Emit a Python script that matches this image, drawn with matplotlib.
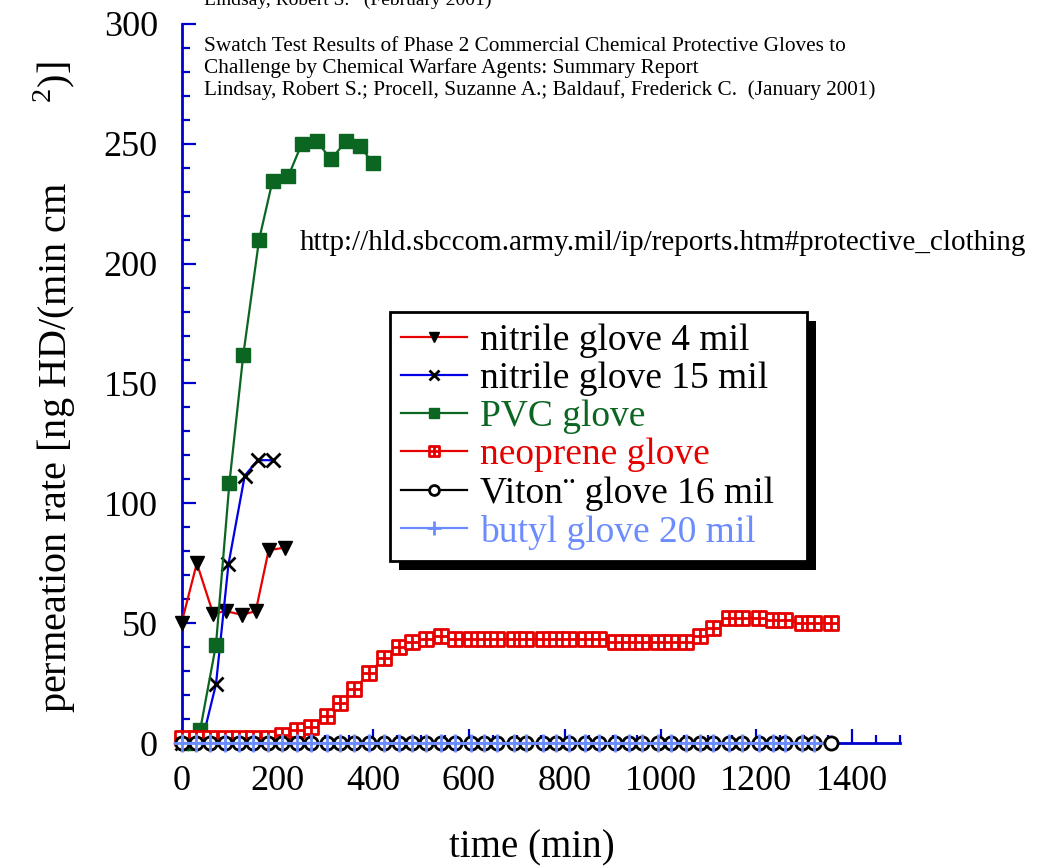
import matplotlib
matplotlib.use('Agg')
import matplotlib.pyplot as plt
from matplotlib.path import Path
from matplotlib.patches import Rectangle
from matplotlib.transforms import IdentityTransform
from matplotlib.ticker import MultipleLocator

plt.rcParams['font.family'] = ['Liberation Serif', 'DejaVu Serif']
plt.rcParams['mathtext.fontset'] = 'custom'
plt.rcParams['mathtext.rm'] = 'Liberation Serif'

# data (time in min, rate in ng HD/(min cm2))
nit4_t = [0, 32, 66, 93, 126, 155, 182, 216]
nit4_y = [50, 75, 54, 55, 53.5, 55, 80.5, 81.5]

nit15_t = [0, 42, 72, 98, 132, 159, 191]
nit15_y = [0, 0, 24.5, 74.5, 111.5, 118, 118]

pvc_t = [10, 39, 72, 100, 129, 162, 190, 223, 251, 283, 312, 343, 372, 400]
pvc_y = [0, 5.5, 41, 108.5, 162, 210, 234.5, 236.5, 250, 251, 243.5, 251, 249, 242]

neo_t = [0, 30, 60, 90, 120, 150, 180, 209, 241, 270, 303, 330, 360, 392,
         422, 454, 482, 510, 542, 572, 604, 631, 659, 694, 720, 754, 782,
         810, 843, 871, 904, 934, 961, 994, 1022, 1053, 1083, 1110, 1144,
         1171, 1205, 1234, 1260, 1295, 1321, 1356]
neo_y = [2, 2, 2, 2, 2, 2, 2, 3.3, 5.4, 6.8, 11.3, 16.8, 22.4, 29.1,
         35.5, 40.2, 42.3, 43.5, 44.6, 43.4, 43.4, 43.4, 43.4, 43.4, 43.4,
         43.4, 43.4, 43.4, 43.4, 43.4, 42.3, 42.3, 42.3, 42.3, 42.3, 42.3,
         44.6, 47.8, 52.3, 52.3, 52.3, 51.3, 51.3, 50.2, 50.2, 50.2]

viton_t = neo_t
viton_y = [0] * len(viton_t)
butyl_t = neo_t[:-1]
butyl_y = [0] * len(butyl_t)

labels = ['nitrile glove 4 mil', 'nitrile glove 15 mil', 'PVC glove',
          'neoprene glove', 'Viton¨ glove 16 mil', 'butyl glove 20 mil']

red = '#e60000'
blue = '#0000e6'
green = '#0b6622'
lblue = '#6b8cff'
axblue = '#0000cc'

# square with a cross inside, like the neoprene marker
grid_sq = Path([(-1, -1), (1, -1), (1, 1), (-1, 1), (-1, -1),
                (0, -1), (0, 1), (-1, 0), (1, 0)],
               [Path.MOVETO, Path.LINETO, Path.LINETO, Path.LINETO, Path.CLOSEPOLY,
                Path.MOVETO, Path.LINETO, Path.MOVETO, Path.LINETO])

fig = plt.figure(figsize=(10.37, 8.67), dpi=100)
ax = fig.add_axes([181.5 / 1037, 124 / 867, 718.5 / 1037, 719 / 867])

lw = 1.6
ms = 9.5
ax.plot(nit4_t, nit4_y, color=red, lw=lw, marker='v', ms=ms, mfc='k', mec='k',
        clip_on=False, label=labels[0])
ax.plot(nit15_t, nit15_y, color=blue, lw=lw, marker='x', ms=ms, mew=2, mec='k',
        clip_on=False, label=labels[1])
ax.plot(pvc_t, pvc_y, color=green, lw=lw, marker='s', ms=ms, mfc=green, mec=green,
        clip_on=False, label=labels[2])
ax.plot(neo_t, neo_y, color=red, lw=lw, marker=grid_sq, ms=ms, mfc='white', mec=red,
        mew=2, clip_on=False, label=labels[3])
ax.plot(viton_t, viton_y, color='k', lw=lw, marker='o', ms=ms, mfc='white', mec='k',
        mew=2, clip_on=False, label=labels[4])
ax.plot(butyl_t, butyl_y, color=lblue, lw=lw, marker='+', ms=ms + 3, mew=2, mec=lblue,
        clip_on=False, label=labels[5])

ax.set_xlim(0, 1500)
ax.set_ylim(0, 300)
ax.xaxis.set_major_locator(MultipleLocator(200))
ax.xaxis.set_minor_locator(MultipleLocator(50))
ax.yaxis.set_major_locator(MultipleLocator(50))
ax.yaxis.set_minor_locator(MultipleLocator(10))

for s in ['top', 'right']:
    ax.spines[s].set_visible(False)
for s in ['left', 'bottom']:
    ax.spines[s].set_color(axblue)
    ax.spines[s].set_linewidth(2)
    ax.spines[s].set_zorder(0.5)

ax.tick_params(which='both', direction='in', color=axblue, width=1.6, labelsize=26)
ax.tick_params(which='major', length=10)
ax.tick_params(which='minor', length=5.5)
ax.tick_params(axis='x', pad=16)
ax.tick_params(axis='y', pad=17)

fig.text(55 / 1037, 1 - 387 / 867,
         'permeation rate [ng HD/(min cm        $^{2}$)]',
         rotation=90, ha='center', va='center', fontsize=29)
fig.text(532 / 1037, 1 - 848 / 867, 'time (min)', ha='center', va='center', fontsize=28)

ref_lines = ['Lindsay, Robert S.   (February 2001)',
             'Swatch Test Results of Phase 2 Commercial Chemical Protective Gloves to',
             'Challenge by Chemical Warfare Agents: Summary Report',
             'Lindsay, Robert S.; Procell, Suzanne A.; Baldauf, Frederick C.  (January 2001)']
for i, line in enumerate(ref_lines):
    base = 5 if i == 0 else 51 + 22 * (i - 1)
    fig.text(204 / 1037, 1 - base / 867, line, ha='left', va='baseline',
             fontsize=14 if i == 0 else 15.3)

fig.text(300 / 1037, 1 - 243 / 867,
         'http://hld.sbccom.army.mil/ip/reports.htm#protective_clothing',
         ha='left', va='center', fontsize=21)

handles, _ = ax.get_legend_handles_labels()
leg = fig.legend(handles, labels, loc='upper left',
                 bbox_to_anchor=(390 / 1037, 1 - 555 / 867, 417 / 1037, 243 / 867),
                 mode='expand', fontsize=27, frameon=True, fancybox=False,
                 framealpha=1, edgecolor='k', borderaxespad=0, borderpad=0.3,
                 labelspacing=0.1, handlelength=1.75, handletextpad=0.35,
                 markerscale=0.75,
                 labelcolor=['k', 'k', green, red, 'k', lblue])
leg.get_frame().set_linewidth(2)

fig.canvas.draw()
bb = leg.get_window_extent()
shadow = Rectangle((bb.x0 + 9, bb.y0 - 9), bb.width, bb.height, facecolor='k',
                   edgecolor='none', transform=IdentityTransform(), zorder=4)
fig.add_artist(shadow)

fig.savefig('out.png', dpi=100)
